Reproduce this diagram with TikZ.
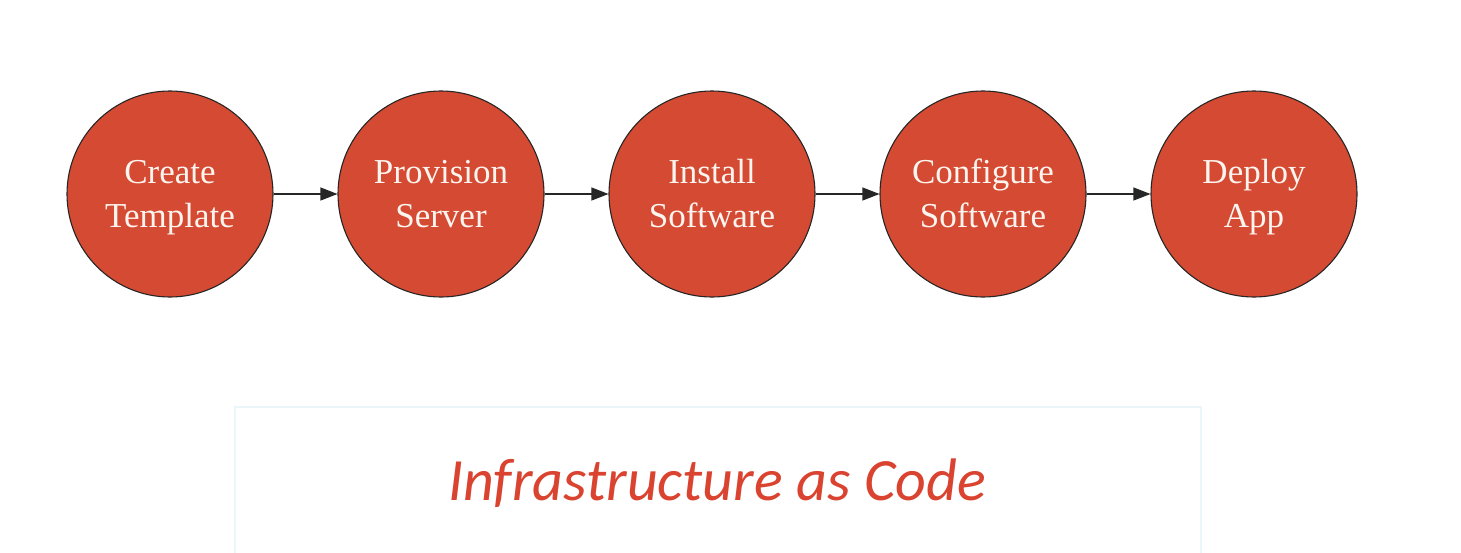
\documentclass[tikz,border=0pt]{standalone}
\usepackage{fontspec}
\setmainfont{Liberation Serif}
\newfontfamily\captionfont{Carlito}
\usetikzlibrary{arrows.meta}
\definecolor{stepred}{HTML}{D44A32}
\definecolor{steptext}{HTML}{FCF4EF}
\definecolor{framecyan}{HTML}{EAF6F7}
\definecolor{titlered}{HTML}{D9432F}
% line strut: keeps both lines of a label on fixed baselines
\newcommand{\lnstrut}{\rule[-8pt]{0pt}{38pt}}
\begin{document}
\begin{tikzpicture}[x=1pt,y=-1pt,
  stage/.style={circle, draw=black!85, line width=1.1pt, fill=stepred,
    minimum size=206pt, inner sep=0pt, text=steptext, align=center,
    font=\fontsize{35}{44}\selectfont},
  flow/.style={draw=black!85, line width=1.1pt,
    -{Triangle[length=17pt,width=13pt]}}]
  \useasboundingbox (0,0) rectangle (1461,552);
  \fill[white] (0,0) rectangle (1461,552);

  % process steps
  \node[stage] (create)    at (170,194)  {\lnstrut Create\\\lnstrut Template};
  \node[stage] (provision) at (441,194)  {\lnstrut Provision\\\lnstrut Server};
  \node[stage] (install)   at (712,194)  {\lnstrut Install\\\lnstrut Software};
  \node[stage] (configure) at (983,194)  {\lnstrut Configure\\\lnstrut Software};
  \node[stage] (deploy)    at (1254,194) {\lnstrut Deploy\\\lnstrut App};

  \draw[flow] (create) -- (provision);
  \draw[flow] (provision) -- (install);
  \draw[flow] (install) -- (configure);
  \draw[flow] (configure) -- (deploy);

  % caption panel
  \draw[framecyan, line width=2pt] (235,580) -- (235,407) -- (1201,407) -- (1201,580);
  \node[text=titlered, anchor=base, inner sep=0pt,
        font=\captionfont\itshape\fontsize{60}{66}\selectfont]
    (title) at (717,500) {Infrastructure as Code};
\end{tikzpicture}
\end{document}
